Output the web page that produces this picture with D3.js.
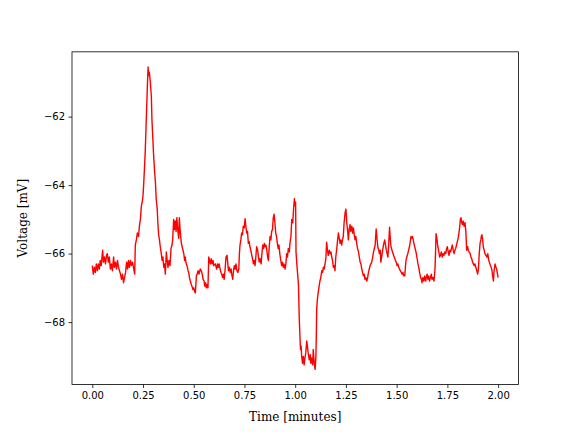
<!DOCTYPE html>
<html>
<head>
<meta charset="utf-8">
<script src="https://cdn.jsdelivr.net/npm/d3@7"></script>
<style>
  html, body { margin: 0; padding: 0; background: #fff; }
  svg { display: block; }
</style>
</head>
<body>
<svg id="chart" width="576" height="432"></svg>
<script>
// Time in minutes
const timeMin = [
0.000,0.005,0.010,0.015,0.020,0.025,0.030,0.035,0.039,0.044,0.051,0.055,0.060,0.065,0.070,0.074,0.079,0.084,0.089,0.094,
0.099,0.105,0.109,0.114,0.119,0.124,0.129,0.134,0.139,0.144,0.149,0.154,0.159,0.164,0.169,0.174,0.178,0.183,0.188,0.193,
0.198,0.203,0.209,0.212,0.217,0.222,0.228,0.232,0.237,0.242,0.246,0.250,0.253,0.258,0.261,0.266,0.270,0.272,0.275,0.278,
0.281,0.286,0.291,0.294,0.298,0.302,0.307,0.311,0.315,0.320,0.323,0.327,0.331,0.335,0.340,0.344,0.348,0.352,0.356,0.360,
0.365,0.369,0.373,0.378,0.383,0.388,0.393,0.396,0.401,0.405,0.409,0.413,0.417,0.421,0.426,0.429,0.434,0.439,0.445,0.451,
0.455,0.458,0.463,0.467,0.472,0.475,0.479,0.483,0.488,0.491,0.496,0.500,0.504,0.508,0.513,0.517,0.521,0.526,0.532,0.537,
0.542,0.546,0.551,0.554,0.558,0.562,0.566,0.570,0.574,0.578,0.582,0.586,0.590,0.595,0.598,0.606,0.613,0.617,0.621,0.625,
0.630,0.634,0.638,0.642,0.646,0.650,0.654,0.659,0.664,0.668,0.671,0.675,0.680,0.684,0.687,0.692,0.696,0.700,0.704,0.708,
0.713,0.717,0.722,0.725,0.728,0.732,0.736,0.740,0.744,0.749,0.753,0.757,0.761,0.765,0.769,0.773,0.777,0.781,0.786,0.790,
0.794,0.798,0.802,0.806,0.810,0.815,0.819,0.823,0.827,0.832,0.836,0.840,0.844,0.848,0.852,0.856,0.860,0.864,0.868,0.872,
0.876,0.880,0.884,0.888,0.892,0.896,0.900,0.904,0.908,0.912,0.916,0.920,0.924,0.929,0.933,0.937,0.941,0.945,0.950,0.954,
0.958,0.962,0.966,0.971,0.974,0.979,0.983,0.988,0.992,0.996,0.999,1.002,1.004,1.008,1.012,1.016,1.018,1.020,1.024,1.026,
1.029,1.032,1.036,1.040,1.044,1.048,1.052,1.057,1.060,1.064,1.069,1.074,1.077,1.081,1.086,1.089,1.094,1.098,1.102,1.104,
1.106,1.110,1.114,1.118,1.122,1.126,1.131,1.135,1.139,1.143,1.147,1.151,1.155,1.159,1.163,1.168,1.172,1.176,1.180,1.184,
1.188,1.192,1.196,1.200,1.205,1.209,1.213,1.217,1.221,1.225,1.229,1.233,1.237,1.241,1.246,1.250,1.254,1.258,1.262,1.266,
1.270,1.274,1.279,1.283,1.287,1.291,1.295,1.299,1.303,1.307,1.312,1.316,1.320,1.324,1.328,1.332,1.336,1.340,1.344,1.348,
1.353,1.357,1.361,1.365,1.369,1.373,1.377,1.382,1.386,1.390,1.394,1.399,1.403,1.407,1.412,1.415,1.419,1.422,1.426,1.431,
1.435,1.441,1.445,1.449,1.453,1.457,1.461,1.465,1.469,1.472,1.477,1.482,1.488,1.494,1.498,1.502,1.506,1.510,1.514,1.518,
1.523,1.527,1.531,1.535,1.540,1.543,1.546,1.550,1.555,1.559,1.563,1.567,1.571,1.575,1.578,1.582,1.585,1.589,1.593,1.597,
1.601,1.605,1.609,1.613,1.618,1.622,1.625,1.629,1.634,1.638,1.643,1.646,1.650,1.654,1.658,1.662,1.666,1.671,1.674,1.679,
1.684,1.689,1.692,1.694,1.697,1.700,1.703,1.708,1.712,1.716,1.720,1.725,1.728,1.733,1.737,1.742,1.746,1.750,1.754,1.758,
1.762,1.766,1.770,1.774,1.779,1.783,1.787,1.791,1.795,1.799,1.803,1.807,1.811,1.814,1.817,1.821,1.824,1.828,1.832,1.837,
1.841,1.845,1.850,1.853,1.857,1.862,1.866,1.870,1.874,1.878,1.882,1.886,1.890,1.895,1.899,1.903,1.907,1.911,1.915,1.917,
1.920,1.924,1.927,1.931,1.935,1.940,1.945,1.949,1.954,1.957,1.962,1.966,1.970,1.973,1.977,1.980,1.985,1.989,1.993,1.997,
2.000
];
// Membrane voltage in mV
const voltageMV = [
-66.35,-66.6,-66.4,-66.55,-66.3,-66.5,-66.3,-66.45,-66.2,-66.35,-65.9,-66.25,-66.1,-66.3,-66.05,-66.0,-66.25,-66.1,-66.45,-66.3,
-66.5,-66.1,-66.4,-66.25,-66.45,-66.2,-66.4,-66.5,-66.6,-66.75,-66.6,-66.85,-66.7,-66.55,-66.25,-66.45,-66.2,-66.4,-66.2,-66.35,
-66.25,-66.4,-66.6,-65.75,-65.6,-65.4,-65.5,-65.2,-65.0,-64.6,-64.5,-64.3,-64.0,-63.4,-63.0,-62.1,-61.4,-61.0,-60.55,-60.8,
-60.7,-61.0,-61.4,-62.1,-62.6,-63.1,-63.6,-63.9,-64.4,-64.7,-65.1,-65.45,-65.6,-65.8,-66.0,-66.2,-66.1,-66.4,-66.3,-66.6,
-65.95,-66.2,-66.4,-66.2,-66.35,-65.85,-65.75,-65.6,-65.0,-65.3,-65.05,-65.35,-64.95,-65.3,-65.55,-64.95,-65.4,-65.7,-65.85,-66.0,
-66.2,-66.1,-66.3,-66.35,-66.5,-66.55,-66.7,-66.8,-66.9,-66.95,-67.05,-67.0,-67.1,-67.15,-66.65,-66.6,-66.5,-66.6,-66.45,-66.5,
-66.6,-66.75,-66.8,-66.95,-66.85,-67.0,-66.9,-67.0,-66.1,-66.2,-66.3,-66.15,-66.3,-66.2,-66.35,-66.3,-66.45,-66.3,-66.4,-66.3,
-66.45,-66.55,-66.6,-66.7,-66.6,-66.75,-66.5,-66.1,-66.05,-66.3,-66.5,-66.4,-66.55,-66.45,-66.6,-66.75,-66.5,-66.35,-66.45,-66.3,
-66.5,-66.55,-66.45,-66.0,-65.75,-65.6,-65.4,-65.45,-65.2,-65.25,-64.98,-65.2,-65.4,-65.35,-65.7,-65.65,-65.8,-65.9,-66.05,-66.15,
-66.3,-66.2,-66.35,-66.1,-65.8,-65.9,-66.1,-66.25,-66.15,-66.3,-66.0,-65.75,-65.85,-65.7,-65.8,-65.75,-65.9,-66.1,-66.2,-65.8,
-65.5,-65.6,-65.35,-65.3,-64.95,-64.85,-65.1,-65.4,-65.5,-65.7,-65.85,-65.75,-66.0,-66.2,-66.35,-66.25,-66.4,-66.3,-66.45,-66.3,
-66.0,-66.1,-65.85,-65.95,-65.7,-65.5,-65.0,-65.1,-64.7,-64.4,-64.6,-64.5,-65.95,-66.3,-66.6,-66.9,-67.4,-67.9,-68.5,-68.8,
-68.7,-69.0,-69.2,-69.0,-69.25,-69.05,-68.9,-68.55,-68.7,-68.9,-69.1,-68.95,-69.2,-69.05,-69.25,-68.8,-69.2,-69.38,-69.0,-68.4,
-67.6,-67.3,-67.1,-66.95,-66.8,-66.7,-66.5,-66.55,-66.4,-66.45,-66.3,-66.15,-65.67,-65.9,-66.05,-65.9,-66.0,-65.95,-66.1,-66.2,
-66.4,-66.35,-66.5,-66.1,-65.85,-65.6,-65.4,-65.55,-65.7,-65.6,-65.75,-65.6,-65.5,-65.1,-64.8,-64.7,-65.1,-65.3,-65.6,-65.3,
-65.15,-65.35,-65.2,-65.4,-65.25,-65.45,-65.6,-65.5,-65.7,-65.85,-65.95,-66.1,-66.25,-66.3,-66.45,-66.55,-66.65,-66.6,-66.75,-66.7,
-66.8,-66.7,-66.55,-66.45,-66.35,-66.3,-66.25,-66.1,-65.95,-65.85,-65.75,-65.28,-65.55,-65.8,-65.9,-66.0,-65.9,-66.25,-66.1,-65.9,
-65.75,-65.6,-65.75,-65.9,-66.0,-66.1,-65.7,-65.23,-65.6,-65.8,-65.9,-66.0,-66.1,-66.2,-66.25,-66.35,-66.3,-66.4,-66.45,-66.5,
-66.55,-66.6,-66.55,-66.65,-66.65,-66.4,-66.2,-66.1,-66.0,-65.9,-65.8,-65.65,-65.5,-65.55,-65.5,-65.6,-65.7,-65.8,-65.9,-66.0,
-66.15,-66.3,-66.4,-66.55,-66.7,-66.75,-66.85,-66.7,-66.8,-66.65,-66.8,-66.7,-66.6,-66.75,-66.65,-66.8,-66.7,-66.6,-66.75,-66.7,
-66.8,-66.45,-65.9,-65.42,-65.5,-65.65,-65.8,-65.95,-66.1,-66.05,-65.95,-66.1,-66.0,-66.05,-65.95,-66.0,-65.85,-65.8,-65.95,-66.05,
-65.9,-65.95,-65.85,-65.75,-65.9,-66.0,-65.9,-65.85,-65.75,-65.65,-65.55,-65.4,-65.2,-65.0,-64.95,-65.1,-65.15,-65.05,-65.2,-65.1,
-65.35,-65.9,-65.8,-65.9,-65.95,-66.0,-66.1,-66.15,-66.25,-66.3,-66.35,-66.3,-66.4,-66.5,-66.6,-66.45,-66.0,-65.7,-65.6,-65.5,
-65.45,-65.6,-65.8,-65.9,-66.0,-66.05,-66.1,-66.0,-66.2,-66.25,-66.35,-66.4,-66.5,-66.65,-66.8,-66.5,-66.3,-66.4,-66.45,-66.6,
-66.7
];
const xTicks = [0.00, 0.25, 0.50, 0.75, 1.00, 1.25, 1.50, 1.75, 2.00];
const yTicks = [-68, -66, -64, -62];
const xLabel = "Time [minutes]";
const yLabel = "Voltage [mV]";

const W = 576, H = 432;
const mLeft = 72, mRight = 518.4, mTop = 51.84, mBottom = 384.48;

const n = Math.min(timeMin.length, voltageMV.length);
const points = d3.range(n).map(i => ({ t: timeMin[i], v: voltageMV[i] }));

const xExt = d3.extent(points, d => d.t), yExt = d3.extent(points, d => d.v);
const xPad = (xExt[1] - xExt[0]) * 0.05, yPad = (yExt[1] - yExt[0]) * 0.05;
const x = d3.scaleLinear().domain([xExt[0] - xPad, xExt[1] + xPad]).range([mLeft, mRight]);
const y = d3.scaleLinear().domain([yExt[0] - yPad, yExt[1] + yPad]).range([mBottom, mTop]);

const svg = d3.select("#chart");
svg.append("rect").attr("width", W).attr("height", H).attr("fill", "#fff");

const fmtX = d3.format(".2f");
const fmtY = v => (v < 0 ? "\u2212" : "") + Math.abs(v);

const xAxis = svg.append("g").attr("transform", `translate(0,${mBottom})`)
  .call(d3.axisBottom(x).tickValues(xTicks).tickFormat(fmtX).tickSizeOuter(0).tickSize(3.5).tickPadding(3.5));
const yAxis = svg.append("g").attr("transform", `translate(${mLeft},0)`)
  .call(d3.axisLeft(y).tickValues(yTicks).tickFormat(fmtY).tickSizeOuter(0).tickSize(3.5).tickPadding(3.5));
[xAxis, yAxis].forEach(g => {
  g.select(".domain").remove();
  g.selectAll(".tick line").attr("stroke", "#000").attr("stroke-width", 0.8);
  g.selectAll(".tick text").attr("font-family", "DejaVu Sans").attr("font-size", 10).attr("fill", "#000");
});

const line = d3.line().x(d => x(d.t)).y(d => y(d.v));
svg.append("path").datum(points)
  .attr("d", line)
  .attr("fill", "none")
  .attr("stroke", "#ff0000")
  .attr("stroke-width", 1.4)
  .attr("stroke-linejoin", "round");

svg.append("rect")
  .attr("x", mLeft).attr("y", mTop)
  .attr("width", mRight - mLeft).attr("height", mBottom - mTop)
  .attr("fill", "none").attr("stroke", "#000").attr("stroke-width", 0.8);

svg.append("text")
  .attr("x", (mLeft + mRight) / 2).attr("y", 421)
  .attr("text-anchor", "middle")
  .attr("font-family", "DejaVu Serif").attr("font-size", 12)
  .text(xLabel);

svg.append("text")
  .attr("transform", `translate(27,${(mTop + mBottom) / 2}) rotate(-90)`)
  .attr("text-anchor", "middle")
  .attr("font-family", "DejaVu Serif").attr("font-size", 12)
  .text(yLabel);
</script>
</body>
</html>
